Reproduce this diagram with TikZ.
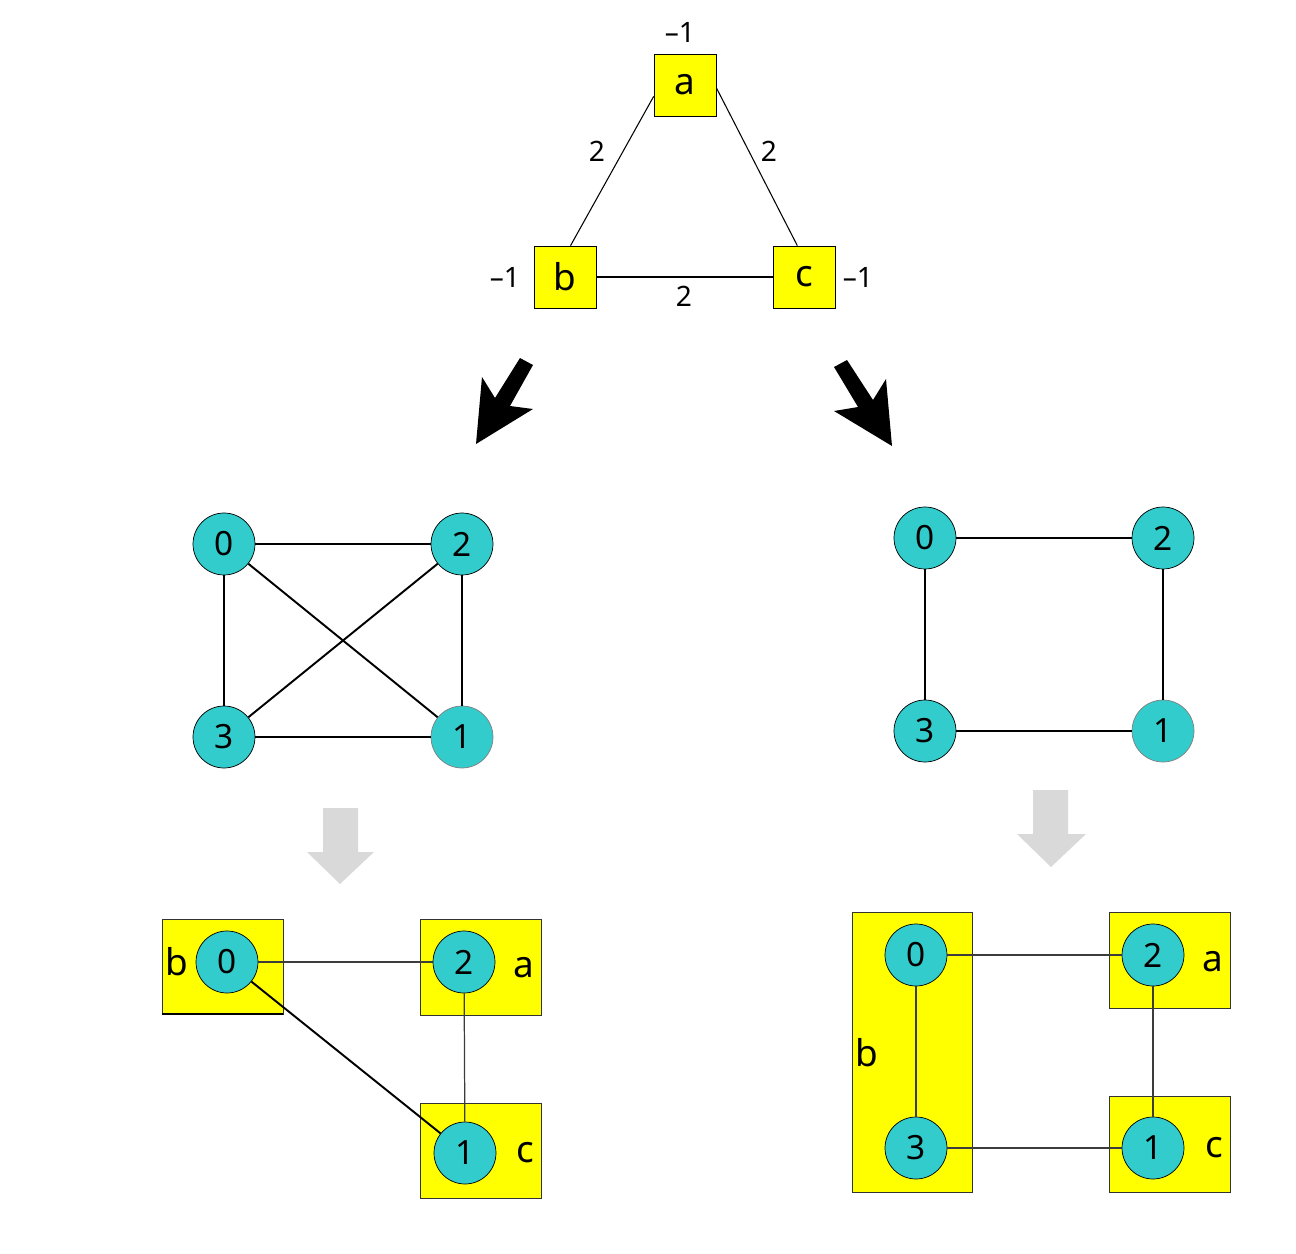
\documentclass[tikz,border=0pt]{standalone}
\usepackage{fontspec}
\setmainfont{Noto Sans}
\definecolor{pyellow}{RGB}{255,255,0}
\definecolor{pcyan}{RGB}{51,204,204}
\definecolor{pgray}{RGB}{217,217,217}
\definecolor{pline}{RGB}{60,60,60}
\usetikzlibrary{positioning}

\begin{document}
\begin{tikzpicture}[x=0.02cm, y=-0.02cm,
  pbox/.style={rectangle, draw=black, fill=pyellow, inner sep=0pt,
               minimum width=1.24cm, minimum height=1.24cm,
               font=\fontsize{21}{24}\selectfont},
  part/.style={rectangle, draw=black!80, fill=pyellow, inner sep=0pt},
  vnode/.style={circle, draw=black, fill=pcyan, inner sep=0pt,
                minimum size=1.24cm, font=\fontsize{19}{22}\selectfont},
  vlast/.style={vnode, draw=black!50},
  wlabel/.style={inner sep=0pt, font=\fontsize{16}{19}\selectfont},
  plabel/.style={inner sep=0pt, font=\fontsize{21}{24}\selectfont},
  edge/.style={line width=0.6pt},
  cross/.style={line width=1.1pt},
  pedge/.style={line width=0.7pt, draw=pline}
]
\useasboundingbox (0,0) rectangle (1296,1254);

% Process graph
\node[pbox] (a) at (685,85)  {a};
\node[pbox] (b) at (565,277) {b};
\node[pbox] (c) at (804,277) {c};
\node[wlabel] (wa) at (680,32)  {–1};
\node[wlabel] (wb) at (505,277) {–1};
\node[wlabel] (wc) at (858,277) {–1};
\draw[edge] (a.200) -- (b.80);
\draw[edge] (a.355) -- (c.102);
\draw[edge] (b) -- (c);
\node[wlabel] (wab) at (597,151) {2};
\node[wlabel] (wac) at (769,151) {2};
\node[wlabel] (wbc) at (684,296) {2};

% Black arrows
\fill (520,358) -- (533,365) -- (510,406) -- (533,409) -- (476,444)
  -- (482,377) -- (495,398) -- cycle;
\fill (847,360) -- (834,367) -- (858,407) -- (834,411) -- (892,446)
  -- (886,379) -- (873,400) -- cycle;

% Left topology
\node[vnode] (l0) at (224,544) {0};
\node[vnode] (l2) at (462,544) {2};
\node[vnode] (l3) at (224,737) {3};
\node[vlast] (l1) at (462,737) {1};
\draw[edge] (l0) -- (l2);
\draw[edge] (l0) -- (l3);
\draw[edge] (l2) -- (l1);
\draw[edge] (l3) -- (l1);
\draw[cross] (l0) -- (l1);
\draw[cross] (l3) -- (l2);

% Right topology
\node[vnode] (r0) at (925,538) {0};
\node[vnode] (r2) at (1163,538) {2};
\node[vnode] (r3) at (925,731) {3};
\node[vlast] (r1) at (1163,731) {1};
\draw[edge] (r0) -- (r2);
\draw[edge] (r0) -- (r3);
\draw[edge] (r2) -- (r1);
\draw[edge] (r3) -- (r1);

% Gray arrows
\fill[pgray] (323,808) -- (358,808) -- (358,852) -- (374,852) -- (340,884)
  -- (307,852) -- (323,852) -- cycle;
\fill[pgray] (1033,790) -- (1068,790) -- (1068,834) -- (1086,834) -- (1051,867)
  -- (1017,834) -- (1033,834) -- cycle;

% Left mapping
\node[part, minimum width=2.42cm, minimum height=1.9cm] (lb) at (222.5,966.5) {};
\node[part, minimum width=2.42cm, minimum height=1.92cm] (la) at (480.5,967) {};
\node[part, minimum width=2.42cm, minimum height=1.9cm] (lc) at (480.5,1150.5) {};
\draw[line width=1.3pt] (lb.south west) -- (lb.south east);
\node[plabel] (lbl) at (177,962)  {b};
\node[plabel] (lal) at (524,968)  {a};
\node[plabel] (lcl) at (525,1153) {c};
\node[vnode] (m0) at (227,962)  {0};
\node[vnode] (m2) at (464,962)  {2};
\node[vnode] (m1) at (465,1153) {1};
\draw[pedge] (m0) -- (m2);
\draw[pedge] (m2) -- (m1);
\draw[cross] (m0) -- (m1);

% Right mapping
\node[part, minimum width=2.4cm, minimum height=5.6cm] (rb) at (912,1052) {};
\node[part, minimum width=2.42cm, minimum height=1.92cm] (ra) at (1169.5,960) {};
\node[part, minimum width=2.42cm, minimum height=1.92cm] (rc) at (1169.5,1144) {};
\node[plabel] (rbl) at (867,1053)  {b};
\node[plabel] (ral) at (1213,962)  {a};
\node[plabel] (rcl) at (1214,1148) {c};
\node[vnode] (n0) at (916,955)   {0};
\node[vnode] (n2) at (1153,955)  {2};
\node[vnode] (n3) at (916,1148)  {3};
\node[vnode] (n1) at (1153,1148) {1};
\draw[pedge] (n0) -- (n2);
\draw[pedge] (n0) -- (n3);
\draw[pedge] (n2) -- (n1);
\draw[pedge] (n3) -- (n1);
\end{tikzpicture}
\end{document}
